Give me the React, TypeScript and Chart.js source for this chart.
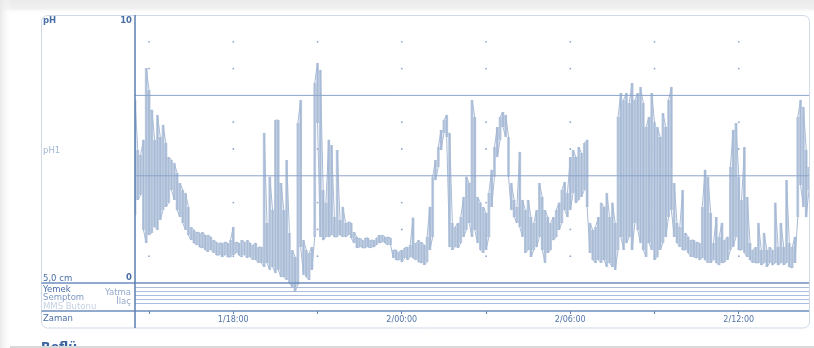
import React, { useEffect, useRef } from 'react';
import { Chart, registerables } from 'chart.js';

Chart.register(...registerables);

// Recording time in hours from 1/00:00, one column every 6 minutes
const START_HOUR = 14.5;
const STEP_HOURS = 0.1;

// Upper envelope of the pH1 trace per column
const phHigh = [
  6.83, 4.96, 4.78, 5.34, 8.02, 7.2, 6.46, 5.34, 6.27, 5.45,
  5.9, 5.22, 4.7, 4.59, 4.48, 4.1, 3.73, 3.47, 3.36, 2.84,
  2.09, 1.98, 1.9, 1.87, 1.9, 1.79, 1.79, 1.72, 1.6, 1.53,
  1.49, 1.49, 1.53, 1.49, 1.6, 2.09, 1.53, 1.49, 1.6, 1.53,
  1.6, 1.49, 1.42, 1.49, 1.34, 1.34, 5.6, 2.24, 3.96, 2.72,
  6.08, 6.08, 3.73, 2.72, 4.59, 1.87, 1.23, 0.97, 5.97, 6.83,
  1.6, 1.23, 1.12, 1.34, 7.46, 8.21, 7.95, 3.47, 2.99, 5.34,
  5.15, 2.46, 4.96, 2.35, 2.84, 2.24, 2.28, 2.24, 1.9, 1.72,
  1.68, 1.6, 1.68, 1.68, 1.6, 1.6, 1.68, 1.79, 1.79, 1.72,
  1.72, 1.68, 1.23, 1.23, 1.16, 1.23, 1.31, 1.34, 1.42, 2.43,
  1.49, 1.6, 1.53, 1.42, 1.72, 2.84, 3.96, 4.59, 5.07, 5.71,
  6.08, 6.27, 5.6, 2.24, 2.09, 2.24, 2.46, 3.21, 3.96, 3.73,
  6.83, 6.19, 3.21, 2.99, 2.84, 2.61, 3.36, 4.22, 5.07, 5.82,
  6.19, 6.38, 6.27, 5.45, 3.73, 3.1, 2.84, 4.89, 3.1, 2.72,
  3.1, 2.46, 2.24, 2.72, 3.73, 3.21, 2.72, 2.46, 2.24, 2.46,
  2.72, 2.99, 3.47, 3.77, 3.36, 4.7, 4.96, 4.7, 5.07, 4.85,
  5.22, 5.34, 2.24, 1.98, 2.09, 2.46, 2.99, 2.84, 3.36, 2.46,
  2.99, 2.24, 6.19, 7.09, 6.83, 7.09, 6.72, 7.46, 6.83, 7.09,
  7.31, 6.72, 5.82, 6.19, 7.09, 5.97, 5.82, 5.45, 6.34, 5.82,
  6.83, 7.31, 3.73, 2.24, 2.09, 3.47, 1.87, 1.72, 1.6, 1.6,
  1.53, 1.49, 2.84, 4.22, 3.96, 2.61, 1.49, 2.46, 1.72, 2.24,
  1.6, 1.72, 4.33, 5.71, 5.97, 3.96, 3.1, 5.07, 3.21, 1.49,
  1.23, 1.34, 2.24, 1.23, 1.87, 1.23, 1.34, 1.23, 2.99, 1.34,
  2.24, 1.34, 3.84, 1.49, 1.34, 1.72, 6.19, 6.83, 6.57, 4.96,
  4.33,
];

// Lower envelope of the pH1 trace per column
const phLow = [
  2.54, 3.1, 3.28, 1.98, 1.49, 1.79, 1.87, 2.09, 1.98, 2.35,
  2.72, 2.84, 2.99, 3.47, 3.1, 2.72, 2.46, 2.24, 1.98, 1.79,
  1.6, 1.49, 1.42, 1.34, 1.31, 1.23, 1.16, 1.23, 1.12, 1.04,
  1.04, 0.97, 1.04, 0.97, 0.97, 1.04, 1.12, 1.04, 0.97, 1.04,
  0.93, 0.97, 0.86, 0.86, 0.75, 0.75, 0.6, 0.75, 0.49, 0.6,
  0.37, 0.49, 0.22, 0.22, 0.11, 0.0, -0.15, -0.3, -0.07, 1.34,
  0.3, 0.22, 0.11, 0.49, 1.72, 5.97, 1.72, 1.6, 1.72, 1.72,
  1.79, 1.72, 1.72, 1.79, 1.72, 1.72, 1.79, 1.68, 1.49, 1.31,
  1.34, 1.31, 1.31, 1.34, 1.31, 1.34, 1.42, 1.49, 1.53, 1.49,
  1.42, 1.42, 0.93, 0.86, 0.86, 0.78, 0.93, 0.86, 0.97, 0.93,
  0.86, 0.78, 0.75, 0.67, 0.78, 1.23, 1.72, 3.84, 4.33, 4.96,
  5.6, 5.45, 1.34, 1.23, 1.34, 1.31, 1.49, 1.72, 1.98, 2.24,
  1.72, 1.98, 1.49, 1.23, 1.12, 1.23, 1.72, 2.84, 3.96, 4.7,
  5.34, 5.82, 5.45, 3.96, 2.72, 2.46, 2.24, 2.09, 1.72, 1.12,
  1.23, 0.97, 1.23, 1.34, 1.72, 1.23, 0.75, 1.12, 1.23, 1.6,
  1.72, 1.98, 2.24, 2.72, 2.46, 2.72, 3.36, 2.99, 3.1, 3.21,
  3.47, 2.84, 1.12, 0.86, 0.75, 0.86, 0.75, 0.86, 0.6, 0.75,
  0.6, 0.49, 1.23, 1.72, 1.23, 1.49, 1.72, 1.23, 2.24, 1.98,
  1.49, 1.23, 0.97, 1.49, 1.23, 0.86, 0.97, 1.23, 1.49, 1.72,
  2.46, 2.72, 1.72, 1.49, 1.34, 1.23, 1.23, 1.12, 0.97, 0.97,
  0.93, 0.86, 0.93, 0.86, 0.75, 0.75, 0.86, 0.75, 0.67, 0.75,
  0.78, 0.86, 1.23, 1.34, 1.72, 1.23, 1.23, 1.12, 0.97, 0.86,
  0.75, 0.75, 0.75, 0.67, 0.75, 0.6, 0.75, 0.67, 0.75, 0.67,
  0.75, 0.67, 0.75, 0.6, 0.56, 0.75, 2.46, 3.66, 2.84, 2.46,
  3.47,
];

const END_HOUR = START_HOUR + (phHigh.length - 1) * STEP_HOURS;
const tickHours = [15, 18, 21, 24, 27, 30, 33, 36];
const labelHours = [18, 24, 30, 36];
const dotPh = [1, 2, 3, 5, 6, 8, 9];
const refLinesPh = [7, 4];
const Y_MIN = -1.045;
const Y_MAX = 10;

const TRACE_COLOR = '#a8bbd6';
const FONT = "'DejaVu Sans', 'Liberation Sans', sans-serif";

function formatHour(h: number): string {
  const day = 1 + Math.floor(h / 24);
  const hh = h % 24;
  return `${day}/${String(hh).padStart(2, '0')}:00`;
}

function roundRect(ctx: CanvasRenderingContext2D, x: number, y: number, w: number, h: number, r: number) {
  ctx.beginPath();
  ctx.moveTo(x + r, y);
  ctx.lineTo(x + w - r, y);
  ctx.arcTo(x + w, y, x + w, y + r, r);
  ctx.lineTo(x + w, y + h - r);
  ctx.arcTo(x + w, y + h, x + w - r, y + h, r);
  ctx.lineTo(x + r, y + h);
  ctx.arcTo(x, y + h, x, y + h - r, r);
  ctx.lineTo(x, y + r);
  ctx.arcTo(x, y, x + r, y, r);
  ctx.closePath();
}

const panelPlugin = {
  id: 'phPanel',
  beforeDraw(chart: any) {
    const ctx: CanvasRenderingContext2D = chart.ctx;
    const W = chart.width;
    const H = chart.height;
    const area = chart.chartArea;
    const yS = chart.scales.y;
    ctx.save();
    ctx.fillStyle = '#ffffff';
    ctx.fillRect(0, 0, W, H);
    let g = ctx.createLinearGradient(0, 0, 0, 14);
    g.addColorStop(0, '#ebebeb');
    g.addColorStop(0.6, '#f0f0f0');
    g.addColorStop(1, 'rgba(255,255,255,0)');
    ctx.fillStyle = g;
    ctx.fillRect(0, 0, W, 14);
    g = ctx.createLinearGradient(0, 0, 12, 0);
    g.addColorStop(0, '#e9e9e9');
    g.addColorStop(1, 'rgba(255,255,255,0)');
    ctx.fillStyle = g;
    ctx.fillRect(0, 0, 12, H);

    const px = 41.5;
    const py = area.top + 0.5;
    const pr = area.right + 0.5;
    const pb = 328;
    roundRect(ctx, px, py, pr - px, pb - py, 6);
    ctx.fillStyle = '#ffffff';
    ctx.fill();
    ctx.strokeStyle = '#cfd9e8';
    ctx.lineWidth = 1;
    ctx.stroke();

    const y0 = Math.round(yS.getPixelForValue(0));
    ctx.strokeStyle = '#aabedb';
    ctx.lineWidth = 1;
    for (let k = 1; k <= 5; k++) {
      const yy = y0 + 4 * k + 0.5;
      ctx.beginPath();
      ctx.moveTo(area.left, yy);
      ctx.lineTo(area.right, yy);
      ctx.stroke();
    }
    ctx.restore();
  },
  afterDraw(chart: any) {
    const ctx: CanvasRenderingContext2D = chart.ctx;
    const area = chart.chartArea;
    const yS = chart.scales.y;
    const H = chart.height;
    const W = chart.width;
    ctx.save();
    const y0 = Math.round(yS.getPixelForValue(0));
    ctx.strokeStyle = '#6f8ebd';
    ctx.lineWidth = 1.5;
    ctx.beginPath();
    ctx.moveTo(41.5, y0);
    ctx.lineTo(area.right, y0);
    ctx.moveTo(41.5, area.bottom);
    ctx.lineTo(area.right, area.bottom);
    ctx.stroke();
    ctx.strokeStyle = '#5a7eb2';
    ctx.lineWidth = 1.5;
    ctx.beginPath();
    ctx.moveTo(area.left, area.top);
    ctx.lineTo(area.left, 328);
    ctx.stroke();

    ctx.textBaseline = 'middle';
    ctx.textAlign = 'left';
    ctx.fillStyle = '#4a6ea6';
    ctx.font = `bold 8.5px ${FONT}`;
    ctx.fillText('pH', 43, 21);
    ctx.textAlign = 'right';
    ctx.fillText('10', 132, 21);
    ctx.fillText('0', 132, 278);
    ctx.textAlign = 'left';
    ctx.font = `8.5px ${FONT}`;
    ctx.fillStyle = '#a3b7d6';
    ctx.fillText('pH1', 43, 151);
    ctx.fillStyle = '#4a6ea6';
    ctx.fillText('5,0 cm', 43, 278.5);
    ctx.fillText('Yemek', 43, 289.5);
    ctx.fillStyle = '#7d98c3';
    ctx.fillText('Semptom', 43, 297.5);
    ctx.fillStyle = '#c3d0e3';
    ctx.fillText('MMS Butonu', 43, 306.5);
    ctx.fillStyle = '#4a6ea6';
    ctx.fillText('Zaman', 43, 319);
    ctx.textAlign = 'right';
    ctx.fillStyle = '#93a9cc';
    ctx.fillText('Yatma', 131, 293);
    ctx.fillText('İlaç', 131, 302);

    ctx.textAlign = 'left';
    ctx.textBaseline = 'alphabetic';
    ctx.fillStyle = '#3b63a0';
    ctx.font = `bold 12.5px ${FONT}`;
    ctx.fillText('Reflü', 41, 351);
    ctx.fillStyle = '#d9d9d9';
    ctx.fillRect(10, H - 2, W - 10, 2);
    ctx.restore();
  },
};

export default function App() {
  const canvasRef = useRef<HTMLCanvasElement | null>(null);

  useEffect(() => {
    if (!canvasRef.current) return;
    const times = phHigh.map((_, i) => START_HOUR + i * STEP_HOURS);
    const trace: { x: number; y: number }[] = [];
    times.forEach((t, i) => {
      const hi = phHigh[i];
      const lo = phLow[i];
      if (i % 2 === 0) trace.push({ x: t, y: lo }, { x: t, y: hi });
      else trace.push({ x: t, y: hi }, { x: t, y: lo });
    });
    const upper = times.map((t, i) => ({ x: t, y: phHigh[i] }));
    const lower = times.map((t, i) => ({ x: t, y: phLow[i] }));
    const dots: { x: number; y: number }[] = [];
    tickHours.forEach((h) => dotPh.forEach((p) => dots.push({ x: h, y: p })));

    const refSets = refLinesPh.map((p) => ({
      type: 'line' as const,
      data: [
        { x: START_HOUR, y: p },
        { x: END_HOUR, y: p },
      ],
      borderColor: '#8aa4ca',
      borderWidth: 1,
      pointRadius: 0,
      order: 0,
    }));

    const chart = new Chart(canvasRef.current, {
      type: 'line',
      data: {
        datasets: [
          {
            type: 'line',
            data: upper,
            borderWidth: 0,
            borderColor: 'rgba(0,0,0,0)',
            pointRadius: 0,
            stepped: 'middle',
            fill: '+1',
            backgroundColor: 'rgba(168,187,214,0.75)',
            order: 2,
          },
          {
            type: 'line',
            data: lower,
            borderWidth: 0,
            borderColor: 'rgba(0,0,0,0)',
            pointRadius: 0,
            stepped: 'middle',
            fill: false,
            order: 2,
          },
          ...refSets,
          {
            type: 'line',
            label: 'pH1',
            data: trace,
            borderColor: TRACE_COLOR,
            borderWidth: 1,
            pointRadius: 0,
            tension: 0,
            fill: false,
            order: 1,
          },
          {
            type: 'scatter',
            data: dots,
            pointRadius: 0.9,
            pointBorderWidth: 0,
            backgroundColor: '#8ea6ca',
            borderColor: '#8ea6ca',
            order: 3,
          } as any,
        ],
      },
      options: {
        animation: false,
        responsive: true,
        maintainAspectRatio: false,
        devicePixelRatio: 1,
        events: [],
        layout: { padding: { left: 135, right: 5, top: 15, bottom: 0 } },
        plugins: { legend: { display: false }, tooltip: { enabled: false } },
        scales: {
          x: {
            type: 'linear',
            position: 'bottom',
            min: START_HOUR,
            max: END_HOUR,
            afterBuildTicks: (s: any) => {
              s.ticks = tickHours.map((v) => ({ value: v }));
            },
            afterFit: (s: any) => {
              s.height = 37;
            },
            ticks: {
              autoSkip: false,
              maxRotation: 0,
              padding: 1,
              color: '#5274a8',
              font: { family: FONT, size: 8 },
              callback: (v: any) => (labelHours.includes(Number(v)) ? formatHour(Number(v)) : ''),
            },
            grid: {
              drawOnChartArea: false,
              drawTicks: true,
              tickLength: 3,
              tickColor: '#5f81b3',
              tickWidth: 1,
            },
            border: { display: false },
          },
          y: {
            type: 'linear',
            display: false,
            min: Y_MIN,
            max: Y_MAX,
          },
        },
      },
      plugins: [panelPlugin],
    });
    return () => chart.destroy();
  }, []);

  return (
    <div style={{ position: 'fixed', left: 0, top: 0, width: 814, height: 348 }}>
      <canvas ref={canvasRef} />
    </div>
  );
}
